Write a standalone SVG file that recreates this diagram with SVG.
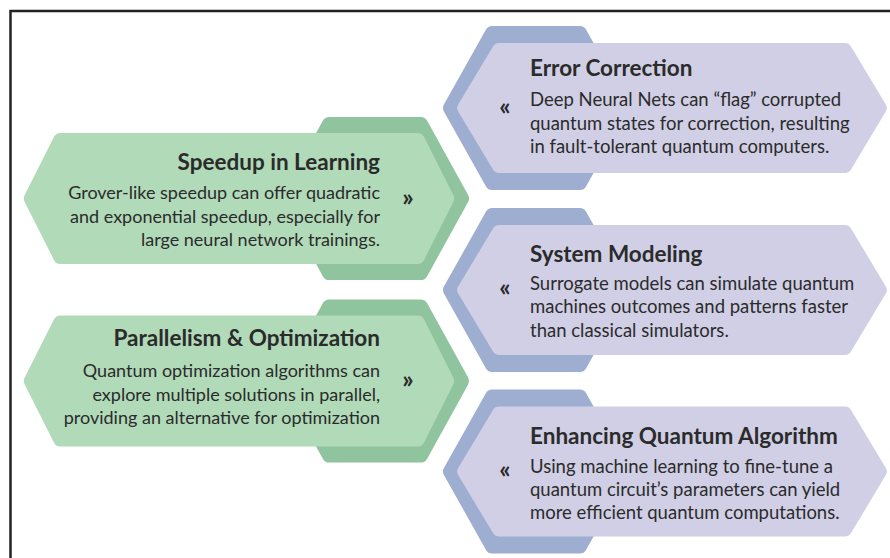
<svg xmlns="http://www.w3.org/2000/svg" xmlns:xlink="http://www.w3.org/1999/xlink" width="890" height="558" viewBox="0 0 890 558">
<style>
  .gf{fill:#b1dab9;stroke:#b1dab9;stroke-width:14;stroke-linejoin:round}
  .gb{fill:#8fc49e;stroke:#8fc49e;stroke-width:14;stroke-linejoin:round}
  .pf{fill:#d0cfe5;stroke:#d0cfe5;stroke-width:14;stroke-linejoin:round}
  .pb{fill:#9daed0;stroke:#9daed0;stroke-width:14;stroke-linejoin:round}
  text{font-family:Lato,"Open Sans",sans-serif;fill:#2b2b2b}
  .gt{font-size:22.5px;font-weight:bold;text-anchor:end}
  .gx{font-size:18px;text-anchor:end}
  .pt{font-size:22.5px;font-weight:bold}
  .px{font-size:18.5px}
  .ch{font-size:25px;font-weight:bold;text-anchor:middle}
</style>
<defs>
  <polygon id="gB" class="gb" points="288,198.5 329.1,124 420.9,124 462,198.5 420.9,273 329.1,273"/>
  <polygon id="gF" class="gf" points="30.84,198.5 60.3,140 417.7,140 447.16,198.5 417.7,257 60.3,257"/>
  <polygon id="pB" class="pb" points="450,108 492.1,33 579.9,33 622,108 579.9,183 492.1,183"/>
  <polygon id="pF" class="pf" points="464.2,108 499,50 845,50 879.8,108 845,166 499,166"/>
</defs>
<rect width="890" height="558" fill="#ffffff"/>
<path d="M10.5,558 V11 H890" fill="none" stroke="#222222" stroke-width="2.5"/>
<g id="connectors"/>
<g id="speedup">
  <use xlink:href="#gB"/>
  <use xlink:href="#gF"/>
  <text class="gt" x="380" y="170">Speedup in Learning</text>
  <text class="gx" x="380" y="199">Grover-like speedup can offer quadratic</text>
  <text class="gx" x="380" y="222.5">and exponential speedup, especially for</text>
  <text class="gx" x="380" y="246">large neural network trainings.</text>
  <text class="ch" x="408" y="206">»</text>
</g>
<g id="parallelism">
  <use xlink:href="#gB" y="182.5"/>
  <use xlink:href="#gF" y="182.5"/>
  <text class="gt" x="380" y="345.5">Parallelism &amp; Optimization</text>
  <text class="gx" x="380" y="377">Quantum optimization algorithms can</text>
  <text class="gx" x="380" y="400.5">explore multiple solutions in parallel,</text>
  <text class="gx" x="380" y="423.5">providing an alternative for optimization</text>
  <text class="ch" x="408" y="388">»</text>
</g>
<g id="error-correction">
  <use xlink:href="#pB"/>
  <use xlink:href="#pF"/>
  <text class="pt" x="530" y="76">Error Correction</text>
  <text class="px" x="530" y="106">Deep Neural Nets can “flag” corrupted</text>
  <text class="px" x="530" y="129.5">quantum states for correction, resulting</text>
  <text class="px" x="530" y="152.5">in fault-tolerant quantum computers.</text>
  <text class="ch" x="505" y="115">«</text>
</g>
<g id="system-modeling">
  <use xlink:href="#pB" y="182"/>
  <use xlink:href="#pF" y="182"/>
  <text class="pt" x="530" y="262">System Modeling</text>
  <text class="px" x="530" y="289.5">Surrogate models can simulate quantum</text>
  <text class="px" x="530" y="313">machines outcomes and patterns faster</text>
  <text class="px" x="530" y="337">than classical simulators.</text>
  <text class="ch" x="505" y="296">«</text>
</g>
<g id="enhancing">
  <use xlink:href="#pB" y="363.5"/>
  <use xlink:href="#pF" y="363.5"/>
  <text class="pt" x="530" y="443.5">Enhancing Quantum Algorithm</text>
  <text class="px" x="530" y="473">Using machine learning to fine-tune a</text>
  <text class="px" x="530" y="495.5">quantum circuit’s parameters can yield</text>
  <text class="px" x="530" y="518.5">more efficient quantum computations.</text>
  <text class="ch" x="505" y="478">«</text>
</g>
</svg>
